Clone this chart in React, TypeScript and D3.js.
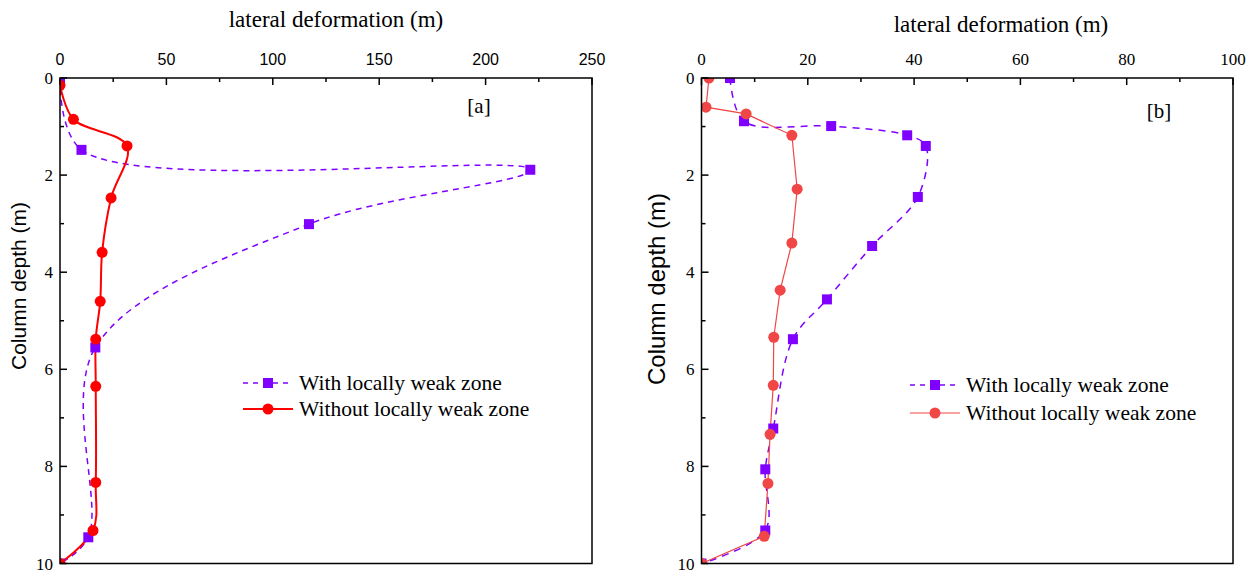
import React from 'react';
import * as d3 from 'd3';

// Depth axis (shared by both panels)
const DEPTH_TICKS = [0, 2, 4, 6, 8, 10];
const DEPTH_MINOR = [1, 3, 5, 7, 9];

// Panel [a]
const A_TICKS = [0, 50, 100, 150, 200, 250];
const A_MINOR = [25, 75, 125, 175, 225];
const A_WEAK_DEPTH = [0, 1.48, 1.89, 3.01, 5.55, 9.46, 10];
const A_WEAK_DEF = [0, 10.1, 221, 117, 16.6, 13.3, 0];
const A_SOUND_DEPTH = [0.15, 0.85, 1.4, 2.47, 3.59, 4.6, 5.38, 6.35, 8.33, 9.32, 10];
const A_SOUND_DEF = [0, 6.3, 31.5, 24, 19.8, 18.9, 16.8, 16.8, 16.8, 15.5, 0];

// Panel [b]
const B_TICKS = [0, 20, 40, 60, 80, 100];
const B_MINOR = [10, 30, 50, 70, 90];
const B_WEAK_DEPTH = [0, 0.89, 0.99, 1.18, 1.4, 2.45, 3.46, 4.56, 5.38, 7.22, 8.06, 9.32, 10];
const B_WEAK_DEF = [5.36, 8.0, 24.4, 38.7, 42.2, 40.7, 32.1, 23.6, 17.2, 13.5, 12.0, 12.0, 0];
const B_SOUND_DEPTH = [0, 0.6, 0.74, 1.18, 2.29, 3.4, 4.37, 5.34, 6.33, 7.34, 8.35, 9.44, 10];
const B_SOUND_DEF = [1.4, 0.85, 8.4, 17.0, 18.0, 17.0, 14.8, 13.6, 13.5, 12.9, 12.5, 11.8, 0];

const LEGEND_WEAK = 'With locally weak zone';
const LEGEND_SOUND = 'Without locally weak zone';
const X_TITLE = 'lateral deformation (m)';
const Y_TITLE = 'Column depth (m)';

const SERIF = '"Liberation Serif", "Times New Roman", serif';
const SANS = '"Liberation Sans", Arial, sans-serif';
const PURPLE = '#8000ff';

type Pt = { v: number; d: number };
const zip = (vals: number[], depths: number[]): Pt[] => vals.map((v, i) => ({ v, d: depths[i] }));

type PanelProps = {
  id: string;
  left: number;
  right: number;
  top: number;
  bottom: number;
  xMax: number;
  xTicks: number[];
  xMinor: number[];
  xTickFont: string;
  xTickSize: number;
  titleX: number;
  titleY: number;
  yTitleX: number;
  yTitleY: number;
  yTitleSize: number;
  weak: Pt[];
  sound: Pt[];
  weakCurve: d3.CurveFactory;
  soundCurve: d3.CurveFactory;
  soundColor: string;
  soundWidth: number;
  dash: string;
  tag: string;
  tagX: number;
  tagY: number;
  legendX: number;
  legendY: number;
  legendGap: number;
};

function Panel(p: PanelProps) {
  const x = d3.scaleLinear().domain([0, p.xMax]).range([p.left, p.right]);
  const y = d3.scaleLinear().domain([0, 10]).range([p.top, p.bottom]);

  const line = (curve: d3.CurveFactory) =>
    d3
      .line<Pt>()
      .x((q) => x(q.v))
      .y((q) => y(q.d))
      .curve(curve);

  const weakPath = line(p.weakCurve)(p.weak) as string;
  const soundPath = line(p.soundCurve)(p.sound) as string;

  const clipId = `clip-${p.id}`;
  const major = 7;
  const minor = 4;
  const lx = p.legendX;
  const ly = p.legendY;

  return (
    <g>
      <defs>
        <clipPath id={clipId}>
          <rect x={p.left} y={p.top} width={p.right - p.left} height={p.bottom - p.top} />
        </clipPath>
      </defs>

      {/* data */}
      <g clipPath={`url(#${clipId})`}>
        <path d={weakPath} fill="none" stroke={PURPLE} strokeWidth={1.5} strokeDasharray={p.dash} />
        <path d={soundPath} fill="none" stroke={p.soundColor} strokeWidth={p.soundWidth} />
        {p.weak.map((q, i) => (
          <rect key={`w${i}`} x={x(q.v) - 5} y={y(q.d) - 5} width={10} height={10} fill={PURPLE} />
        ))}
        {p.sound.map((q, i) => (
          <circle key={`s${i}`} cx={x(q.v)} cy={y(q.d)} r={5.5} fill={p.soundColor} />
        ))}
      </g>

      {/* frame */}
      <rect
        x={p.left}
        y={p.top}
        width={p.right - p.left}
        height={p.bottom - p.top}
        fill="none"
        stroke="#000"
        strokeWidth={1.5}
      />

      {/* top axis */}
      {p.xTicks.map((t) => (
        <g key={`xt${t}`}>
          <line x1={x(t)} x2={x(t)} y1={p.top} y2={p.top + major} stroke="#000" strokeWidth={1.5} />
          <text
            x={x(t)}
            y={p.top - 13}
            textAnchor="middle"
            fontFamily={p.xTickFont}
            fontSize={p.xTickSize}
            fill="#000"
          >
            {t}
          </text>
        </g>
      ))}
      {p.xMinor.map((t) => (
        <line key={`xm${t}`} x1={x(t)} x2={x(t)} y1={p.top} y2={p.top + minor} stroke="#000" strokeWidth={1.5} />
      ))}

      {/* left axis */}
      {DEPTH_TICKS.map((t) => (
        <g key={`yt${t}`}>
          <line x1={p.left} x2={p.left + major} y1={y(t)} y2={y(t)} stroke="#000" strokeWidth={1.5} />
          <text
            x={p.left - 7}
            y={y(t) + 6}
            textAnchor="end"
            fontFamily={SERIF}
            fontSize={17}
            fill="#000"
          >
            {t}
          </text>
        </g>
      ))}
      {DEPTH_MINOR.map((t) => (
        <line key={`ym${t}`} x1={p.left} x2={p.left + minor} y1={y(t)} y2={y(t)} stroke="#000" strokeWidth={1.5} />
      ))}

      {/* axis titles */}
      <text x={p.titleX} y={p.titleY} textAnchor="middle" fontFamily={SERIF} fontSize={23} fill="#000">
        {X_TITLE}
      </text>
      <text
        transform={`translate(${p.yTitleX},${p.yTitleY}) rotate(-90)`}
        textAnchor="middle"
        fontFamily={SANS}
        fontSize={p.yTitleSize}
        fill="#000"
      >
        {Y_TITLE}
      </text>

      {/* panel tag */}
      <text x={p.tagX} y={p.tagY} textAnchor="middle" fontFamily={SERIF} fontSize={21} fill="#000">
        {p.tag}
      </text>

      {/* legend */}
      <g>
        <line x1={lx} x2={lx + 50} y1={ly} y2={ly} stroke={PURPLE} strokeWidth={1.5} strokeDasharray="5,5" />
        <rect x={lx + 25 - 5} y={ly - 5} width={10} height={10} fill={PURPLE} />
        <text x={lx + 56} y={ly + 7} fontFamily={SERIF} fontSize={21.5} fill="#000">
          {LEGEND_WEAK}
        </text>
        <line
          x1={lx}
          x2={lx + 50}
          y1={ly + p.legendGap}
          y2={ly + p.legendGap}
          stroke={p.soundColor}
          strokeWidth={p.soundWidth}
        />
        <circle cx={lx + 25} cy={ly + p.legendGap} r={5.5} fill={p.soundColor} />
        <text x={lx + 56} y={ly + p.legendGap + 7} fontFamily={SERIF} fontSize={21.5} fill="#000">
          {LEGEND_SOUND}
        </text>
      </g>
    </g>
  );
}

export default function App() {
  const smooth = d3.curveCatmullRom.alpha(0.5);
  return (
    <svg
      width={1256}
      height={572}
      style={{ position: 'absolute', left: 0, top: 0, background: '#fff' }}
      xmlns="http://www.w3.org/2000/svg"
    >
      <Panel
        id="a"
        left={60}
        right={592}
        top={78}
        bottom={563.5}
        xMax={250}
        xTicks={A_TICKS}
        xMinor={A_MINOR}
        xTickFont={SANS}
        xTickSize={16}
        titleX={336}
        titleY={27}
        yTitleX={26}
        yTitleY={286}
        yTitleSize={21}
        weak={zip(A_WEAK_DEF, A_WEAK_DEPTH)}
        sound={zip(A_SOUND_DEF, A_SOUND_DEPTH)}
        weakCurve={smooth}
        soundCurve={smooth}
        soundColor="#ff0000"
        soundWidth={2}
        dash="6,5"
        tag="[a]"
        tagX={479}
        tagY={113}
        legendX={243}
        legendY={383}
        legendGap={26}
      />
      <Panel
        id="b"
        left={701.5}
        right={1233}
        top={78}
        bottom={563.5}
        xMax={100}
        xTicks={B_TICKS}
        xMinor={B_MINOR}
        xTickFont={SERIF}
        xTickSize={17}
        titleX={1001}
        titleY={32}
        yTitleX={665}
        yTitleY={289}
        yTitleSize={24}
        weak={zip(B_WEAK_DEF, B_WEAK_DEPTH)}
        sound={zip(B_SOUND_DEF, B_SOUND_DEPTH)}
        weakCurve={smooth}
        soundCurve={d3.curveLinear}
        soundColor="#f04646"
        soundWidth={1.2}
        dash="7,6"
        tag="[b]"
        tagX={1159}
        tagY={118}
        legendX={910}
        legendY={385}
        legendGap={28}
      />
    </svg>
  );
}
